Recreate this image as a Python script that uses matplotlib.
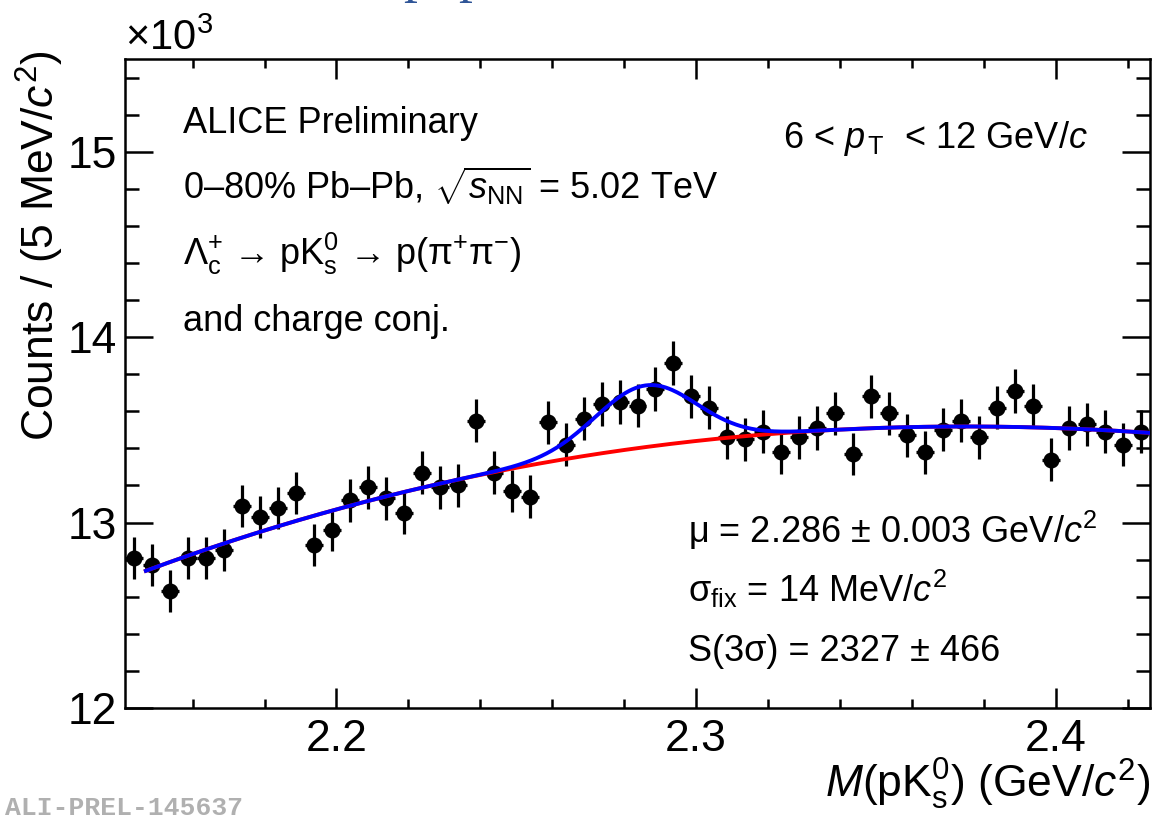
import math
import numpy as np
import matplotlib
matplotlib.use("Agg")
import matplotlib.pyplot as plt
from matplotlib.ticker import MultipleLocator

plt.rcParams["font.family"] = ["Liberation Sans", "DejaVu Sans"]
plt.rcParams["mathtext.fontset"] = "custom"
plt.rcParams["mathtext.rm"] = "Liberation Sans"
plt.rcParams["mathtext.it"] = "Liberation Sans:italic"
plt.rcParams["mathtext.bf"] = "Liberation Sans:bold"

# invariant mass histogram, 5 MeV bins
mass_lo = 2.1412
bin_width = 0.005
counts = [12810, 12770, 12630, 12810, 12810, 12850, 13090, 13030, 13080, 13160,
          12880, 12960, 13120, 13190, 13130, 13050, 13270, 13190, 13200, 13550,
          13270, 13170, 13140, 13540, 13420, 13560, 13640, 13650, 13630, 13720,
          13860, 13680, 13620, 13460, 13450, 13490, 13380, 13460, 13510, 13590,
          13370, 13680, 13590, 13470, 13380, 13500, 13550, 13460, 13620, 13710,
          13630, 13340, 13510, 13530, 13490, 13420, 13490]

# fit: gaussian signal + pol3 background (u = M - 2.3)
fit_lo, fit_hi = 2.147, 2.4262
bkg_pars = [13440.0, 2126.0, -14970.0, 6840.0]
mu = 2.286
sigma = 0.014
signal_3s = 2327

counts = np.array(counts, dtype=float)
centers = mass_lo + bin_width * (np.arange(len(counts)) + 0.5)
errors = np.sqrt(counts)

def background(m):
    u = m - 2.3
    return sum(p * u**i for i, p in enumerate(bkg_pars))

def total(m):
    amp = signal_3s / math.erf(3 / math.sqrt(2)) * bin_width / (sigma * math.sqrt(2 * math.pi))
    return background(m) + amp * np.exp(-0.5 * ((m - mu) / sigma) ** 2)

fig = plt.figure(figsize=(11.55, 8.18), dpi=100)
ax = fig.add_axes([125 / 1155, 1 - 708 / 818, 1025 / 1155, 649 / 818])

ax.errorbar(centers, counts / 1e3, xerr=bin_width / 2, yerr=errors / 1e3,
            fmt="o", color="black", ms=10.5, elinewidth=2.3, capsize=0, zorder=2)

mm = np.linspace(fit_lo, fit_hi, 600)
ax.plot(mm, background(mm) / 1e3, color="#ff0000", lw=2.8, zorder=3)
ax.plot(mm, total(mm) / 1e3, color="#0000ff", lw=2.8, zorder=4)

ax.set_xlim(mass_lo, mass_lo + bin_width * len(counts))
ax.set_ylim(12, 15.5)

ax.xaxis.set_major_locator(MultipleLocator(0.1))
ax.xaxis.set_minor_locator(MultipleLocator(0.02))
ax.yaxis.set_major_locator(MultipleLocator(1))
ax.yaxis.set_minor_locator(MultipleLocator(0.2))
ax.set_xticks([2.2, 2.3, 2.4])
ax.set_xticklabels(["2.2", "2.3", "2.4"])
ax.set_yticks([12, 13, 14, 15])
ax.set_yticklabels(["12", "13", "14", "15"])

ax.tick_params(which="both", direction="in", top=True, right=True, width=1.8, labelsize=32)
ax.tick_params(axis="x", which="major", length=14.5, pad=8)
ax.tick_params(axis="x", which="minor", length=6.5)
ax.tick_params(axis="y", which="major", length=20, pad=6)
ax.tick_params(axis="y", which="minor", length=10)
for s in ax.spines.values():
    s.set_linewidth(1.8)

ax.set_xlabel(r"$M$(pK$^{0}_{\rm s}$) (GeV/$c^{2}$)", fontsize=32, loc="right")
ax.xaxis.set_label_coords(1.0, -0.075)
ax.xaxis.label.set_va("top")
ax.set_ylabel(r"Counts / (5 MeV/$c^{2}$)", fontsize=32, loc="top")
ax.yaxis.set_label_coords(-0.083, 1.013)
ax.yaxis.label.set_va("center")

def px(x, y):
    return (x - 125) / 1025, (708 - y) / 649

tsize = 26
left_lines = [
    "ALICE Preliminary",
    r"0–80% Pb–Pb, $\sqrt{s_{\rm NN}}$ = 5.02 TeV",
    r"Λ$_{\rm c}^{+}$ → pK$^{0}_{\rm s}$ → p(π$^{+}$π$^{-}$)",
    "and charge conj.",
]
for i, line in enumerate(left_lines):
    ax.text(*px(183, 133 + 66 * i), line, transform=ax.transAxes,
            fontsize=tsize, va="baseline", ha="left")

ax.text(*px(783, 148), r"6 < $p_{\,{\rm T}}$  < 12 GeV/$c$", transform=ax.transAxes,
        fontsize=tsize, va="baseline", ha="left")

fit_lines = [
    r"μ = 2.286 ± 0.003 GeV/$c^{2}$",
    r"σ$_{\rm fix}$ = 14 MeV/$c^{2}$",
    "S(3σ) = 2327 ± 466",
]
for i, line in enumerate(fit_lines):
    ax.text(*px(688, 543 + 59 * i), line, transform=ax.transAxes,
            fontsize=tsize, va="baseline", ha="left")

fig.text(125 / 1155, 1 - 50 / 818, r"$\times$10$^{3}$", fontsize=30, va="baseline", ha="left")

fig.text(5 / 1155, 1 - 815 / 818, "ALI-PREL-145637", fontsize=19, family="Liberation Mono",
         weight="bold", color="#b0b0b0", va="baseline", ha="left")

# bits of the slide title cut off at the top edge
for xp in (403, 458):
    fig.text(xp / 1155, 1 + 9 / 818, "p", fontsize=40, family="Liberation Serif",
             color="#2f5597", va="baseline", ha="left")

fig.savefig("out.png", dpi=100)
